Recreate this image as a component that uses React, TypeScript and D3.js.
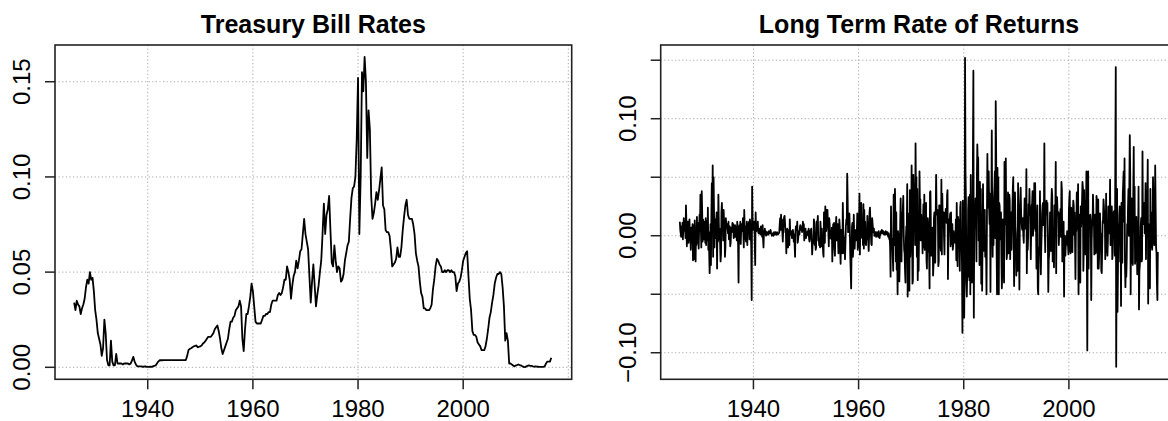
import React from "react";
import * as d3 from "d3";

// ---------- data ----------
const START_YEAR = 1926;

// 3-month Treasury bill rate, quarterly, in per mille (10 = 1%)
const tbillPermille: number[] = [
  34, 30, 35, 33, 32, 28, 31, 33, 36, 42, 46, 44, 50, 46, 47, 40,
  30, 25, 18, 15, 12, 6, 10, 25, 18, 4, 1, 1, 14, 3, 1, 1,
  7, 2, 2, 2, 2, 1.5, 2, 2, 2, 2, 1.5, 2, 3.5, 5.5, 3, 1.5,
  0.5, 0.5, 0.5, 0.5, 0.3, 0.3, 0.5, 0.3, 0.2, 0.2, 0.3, 0.2, 0.5, 0.8, 1, 2,
  3, 3.7, 3.7, 3.7, 3.8, 3.8, 3.8, 3.8, 3.8, 3.8, 3.8, 3.8, 3.8, 3.8, 3.8, 3.8,
  3.8, 3.8, 3.8, 3.8, 3.8, 3.8, 6, 9, 9.7, 10, 10.5, 11, 11.2, 11.5, 10.5, 10.8,
  11, 11.5, 12.5, 13, 14, 15, 16, 16, 16, 17, 18, 20, 21, 22, 19, 15,
  10, 7, 9, 11, 13, 15, 20, 24, 24, 26, 27, 30, 31, 32, 35, 32,
  15, 8.5, 20, 28, 28, 32, 37, 44, 40, 32, 24, 23, 23, 23, 23, 25,
  27, 27, 28, 28, 29, 29, 33, 35, 35, 35, 35, 38, 39, 38, 39, 42,
  46, 46, 53, 50, 46, 36, 43, 48, 50, 56, 52, 56, 61, 62, 70, 78,
  70, 66, 62, 48, 34, 45, 54, 43, 32, 38, 43, 50, 56, 70, 86, 70,
  80, 83, 90, 72, 55, 53, 64, 56, 50, 53, 52, 45, 46, 49, 56, 60,
  64, 66, 78, 89, 94, 95, 100, 120, 152, 70, 100, 155, 145, 163, 150, 110,
  135, 125, 90, 78, 81, 86, 92, 88, 93, 99, 105, 85, 83, 72, 71, 71,
  69, 62, 53, 54, 55, 57, 63, 58, 58, 63, 72, 79, 85, 88, 80, 78,
  78, 78, 75, 70, 60, 56, 53, 45, 39, 37, 31, 31, 30, 30, 30, 31,
  33, 41, 46, 53, 57, 56, 54, 53, 50, 50, 51, 50, 51, 51, 50, 51,
  50, 50, 48, 40, 44, 45, 47, 51, 56, 58, 60, 61, 48, 36, 30, 19,
  17, 17, 16, 13, 12, 11, 9, 9, 9, 11, 15, 20, 26, 29, 34, 38,
  44, 47, 49, 49, 50, 49, 42, 32, 14, 18, 14, 2, 2, 1.5, 1, 0.5,
  1, 1.2, 1.5, 1.2, 1, 0.5, 0.2, 0.1, 0.5, 0.8, 1, 0.8, 0.8, 0.5, 0.3, 0.5,
  0.4, 0.3, 0.2, 0.2, 0.2, 0.2, 0.5, 2, 3, 3, 3, 5,
];

// Long-term bond rate of return, monthly, in per mille (10 = 1%)
const returnsPermille: number[] = [
  12, 5, 2, -1, 8, 3, 11, -3, 7, 15, 9, 4,
  6, -2, 26, 10, -9, 4, 12, 3, -6, 8, 14, -4,
  2, -12, 7, -5, -2, 10, -21, 4, 9, -20, 13, 2,
  -22, 6, -8, 16, -6, 3, 11, -11, 5, 18, 9, 35,
  6, -10, 38, 20, -5, 14, 8, -3, 9, 12, -6, 15,
  -8, 4, 13, -4, 24, -12, 3, -15, -32, -18, 10, -25,
  18, 45, 10, 60, -18, 50, 22, -10, 8, 14, -2, 12,
  20, -28, 15, -5, 35, 10, -3, 6, -8, -22, -15, 20,
  28, 12, 18, -4, 22, 11, 6, -18, -10, 15, 9, 7,
  10, 6, 2, 12, -3, 5, 8, -9, -6, 4, 7, 3,
  11, 4, 10, -2, 5, 3, 9, -1, 6, 8, -4, 12,
  4, -8, -40, 6, 9, -3, 12, -7, 5, 8, 10, 4,
  15, 2, -10, 22, 5, 8, -2, -5, 3, 12, -8, 9,
  6, 10, 12, -3, 14, 8, 2, -10, -55, 42, 15, 10,
  5, 8, 12, -4, -25, 20, 6, 4, 10, 7, 12, 3,
  2, 4, 6, 3, 1, 8, 4, 2, -1, 9, -3, -10,
  3, 1, 6, 2, 4, 0, 3, 2, 1, 3, 1, 4,
  2, 3, 2, 5, 3, 2, 0, 2, 1, 2, 0, 3,
  1, 2, 3, 1, 2, 1, 3, 2, 1, 2, 2, 3,
  10, 15, 5, 18, 8, 14, 3, -5, 6, 12, 16, 17,
  12, 3, 5, -15, 2, 6, -4, -10, 1, 5, -8, 14,
  3, 1, 4, 2, -2, 3, 5, 2, -5, 1, -8, -18,
  4, 8, 6, 5, 12, -6, -3, 2, 4, 1, 7, 9,
  8, 5, 6, 3, 7, 12, 5, 10, -4, 3, 2, 6,
  -2, 3, 1, 2, 4, 0, 6, -3, -5, -2, 4, 5,
  6, -3, -16, -8, -4, -6, 14, 10, -8, 2, -12, -10,
  12, 3, 10, 17, -4, -2, -8, -5, -10, 12, 1, -9,
  6, -8, -4, -14, -18, 20, 4, -6, 25, 15, 4, 22,
  12, 22, 8, 4, -9, 15, 9, 1, -2, 4, -3, 7,
  -22, -6, 10, -1, 11, -11, -17, 4, 9, 16, -4, 5,
  10, -1, -15, -6, 14, 8, -12, -24, 5, -8, -6, -15,
  28, 4, -3, -15, -2, -20, -6, 8, 14, 10, 53, 32,
  3, 14, 10, 19, 4, -18, -30, -45, -12, 8, 11, -18,
  -10, 18, -1, -11, -2, 4, 5, -4, 3, 19, -12, -9,
  11, 13, 36, -16, 12, 20, 28, 1, -2, 10, -8, 27,
  -11, 22, -3, 12, -6, -8, 1, -3, 17, 6, -4, -13,
  -1, 20, 24, 11, 2, -7, -8, 15, 10, 5, 3, 6,
  0, 2, 1, 3, -1, 2, 3, 2, 0, -1, 4, 0,
  -2, 2, 1, 4, 3, 5, 2, 3, 4, 2, 1, 3,
  3, 1, 4, 3, 2, 1, 3, 0, -1, 2, -3, -2,
  -10, -35, 25, -6, -8, -3, -18, -30, 35, 26, -8, 40,
  15, -22, 20, -29, -5, -50, 4, -8, 2, -39, -20, 12,
  32, -4, -22, 20, 8, 23, 34, 1, -12, -15, -30, -40,
  -2, 8, 6, 44, -52, 19, 12, -6, -47, 39, -18, -6,
  -1, 60, 10, -41, -38, 52, 32, 20, 20, -8, 79, 30,
  50, -18, 40, -38, -4, -30, 0, 55, 26, 31, -4, 18,
  -4, 7, -15, 11, 27, -10, 35, -12, 10, 25, 28, -21,
  -28, 5, 15, 9, -12, -15, -45, 37, 38, 8, -17, -10,
  -8, 7, -34, -25, 15, 20, -10, -23, 18, 52, 21, 18,
  22, 18, -26, -22, 26, 26, -8, -9, -13, 48, -16, 36,
  15, 10, 20, -2, -16, 20, 13, 23, 18, 11, 35, 39,
  -37, -2, 14, 10, 12, 19, -9, 20, -2, -7, 10, -12,
  -8, 4, -4, -3, -6, -5, 14, -21, 28, -8, -26, 16,
  8, -10, 14, -30, 24, 29, -10, -3, -25, -83, 30, -11,
  -20, -70, -25, 152, 55, 30, -40, -52, -30, -35, 22, 33,
  -14, -38, 35, -50, 52, -5, -37, -40, -8, 72, 141, -70,
  6, 16, 20, 32, 15, -22, 50, 78, 62, 67, -4, 30,
  -25, 46, -16, 40, -41, -5, -47, 1, 44, -13, 17, -2,
  22, -18, -16, -11, -50, 20, 70, 24, 30, 55, 23, 10,
  36, -48, 32, 22, 90, 14, -18, 30, -8, 33, 40, 55,
  -2, 115, 70, -10, -50, 58, -12, 50, -50, 28, 25, -3,
  18, 20, -20, -45, -30, 14, -18, -25, -40, 63, 10, 17,
  66, 10, -20, -15, -11, 37, -15, 6, 35, 30, -20, 12,
  20, -12, 14, 22, 40, 50, -6, -43, 4, 37, 8, 1,
  -34, -3, -8, -30, 45, 23, 10, -46, 8, 25, 41, 18,
  13, 6, 5, 15, 0, -6, 15, 32, 30, 6, 10, 57,
  -32, 5, -12, 0, 27, 19, 40, 19, 17, -20, 5, 26,
  27, 38, 0, 8, 6, 45, 20, 45, 4, 11, -28, 4,
  26, -45, -50, -18, -10, -15, 38, -10, -33, -10, 4, 20,
  26, 28, 9, 17, 79, 6, -14, 20, 18, 30, 25, 28,
  -1, -48, -21, -16, -5, 20, 0, -13, 28, 40, 33, -22,
  -13, 0, -27, 26, 9, 19, 63, -32, 30, 33, 21, 18,
  20, -8, 3, 4, 18, 23, -1, 46, 39, -22, 9, 0,
  12, -52, -1, 0, -17, -8, -8, -4, 4, -4, -8, -16,
  22, 32, 38, -13, -15, 24, 14, 23, -14, 18, 30, 26,
  1, 20, -4, -37, 4, 4, 37, 20, 6, 44, -50, -12,
  18, 10, -40, 25, 8, 18, 30, 46, 41, -30, -12, 39,
  -12, 30, -16, 11, 55, -16, -98, 5, 55, -28, 6, 13,
  17, 18, 13, -55, -5, 11, 9, 35, 18, 18, -16, 17,
  18, -15, -13, 34, 30, 19, -28, 31, -28, -18, 4, 19,
  -5, 2, -30, -32, -10, 12, 14, 31, 25, 11, 21, -20,
  -8, 36, -14, 7, -17, -5, 25, 16, 2, 11, 48, -8,
  17, -5, 25, -20, -15, 20, 0, 21, 13, -17, 64, 144,
  -112, -14, 40, -65, -30, 10, -5, 18, 25, -22, 13, -60,
  28, 6, -23, 35, 45, 55, 12, 66, -24, -44, -27, -35,
  -20, 10, 2, 26, 40, 0, 44, 86, 52, -50, 16, 32,
  8, -22, -25, 38, 76, 9, 42, -24, -18, -5, 16, -6,
  -33, 12, -10, 42, -63, -30, -25, -12, 8, 15, -22, -20,
  72, 10, 10, 20, 28, 2, 8, 45, -20, 30, 30, 28,
  65, -58, 10, -40, -30, -45, 40, -10, 20, -5, -12, -4,
  50, 30, 0, -8, 8, 60, 25, -10, -15, -42, -55, -14,
];

const titles = ["Treasury Bill Rates", "Long Term Rate of Returns"];
const xTickYears = [1940, 1960, 1980, 2000];
const xGridYears = [1940, 1960, 1980, 2000, 2020];
const tbillYTicks = [0, 0.05, 0.1, 0.15];
const tbillYLabels = [0, 0.05, 0.1, 0.15];
const returnsYTicks = [-0.1, -0.05, 0, 0.05, 0.1, 0.15];
const returnsYLabels = [-0.1, 0, 0.1];

// ---------- layout ----------
const W = 1168;
const H = 421;
const TOP = 45;
const BOTTOM = 379.3;
const X_DOMAIN: [number, number] = [1922.36, 2020.64];
const FONT = "'Liberation Sans', Arial, Helvetica, sans-serif";
const fmt = d3.format(".2f");

type Pt = { t: number; v: number };

const tbillSeries: Pt[] = tbillPermille.map((p, i) => ({ t: START_YEAR + i / 4, v: p / 1000 }));
const returnsSeries: Pt[] = returnsPermille.map((p, i) => ({ t: START_YEAR + i / 12, v: p / 1000 }));

function Panel(props: {
  title: string;
  x0: number;
  x1: number;
  yDomain: [number, number];
  yTicks: number[];
  yLabels: number[];
  data: Pt[];
}) {
  const { title, x0, x1, yDomain, yTicks, yLabels, data } = props;
  const x = d3.scaleLinear().domain(X_DOMAIN).range([x0, x1]);
  const y = d3.scaleLinear().domain(yDomain).range([BOTTOM, TOP]);
  const line = d3
    .line<Pt>()
    .x((d) => x(d.t))
    .y((d) => y(d.v));
  const grid = "#a8a8a8";
  const dash = "1.2,2.4";
  return (
    <g>
      <text
        x={(x0 + x1) / 2}
        y={33}
        textAnchor="middle"
        fontFamily={FONT}
        fontWeight="bold"
        fontSize={25}
        fill="#000"
      >
        {title}
      </text>
      {/* grid */}
      {xGridYears.map((yr) => (
        <line
          key={"gx" + yr}
          x1={x(yr)}
          x2={x(yr)}
          y1={TOP}
          y2={BOTTOM}
          stroke={grid}
          strokeWidth={1}
          strokeDasharray={dash}
        />
      ))}
      {yTicks.map((v) => (
        <line
          key={"gy" + v}
          x1={x0}
          x2={x1}
          y1={y(v)}
          y2={y(v)}
          stroke={grid}
          strokeWidth={1}
          strokeDasharray={dash}
        />
      ))}
      {/* data */}
      <path d={line(data) || ""} fill="none" stroke="#000" strokeWidth={1.8} strokeLinejoin="round" />
      {/* box */}
      <rect x={x0} y={TOP} width={x1 - x0} height={BOTTOM - TOP} fill="none" stroke="#222" strokeWidth={1.6} />
      {/* x axis */}
      {xTickYears.map((yr) => (
        <g key={"xt" + yr}>
          <line x1={x(yr)} x2={x(yr)} y1={BOTTOM} y2={BOTTOM + 10} stroke="#222" strokeWidth={1.5} />
          <text x={x(yr)} y={416.7} textAnchor="middle" fontFamily={FONT} fontSize={24} fill="#000">
            {String(yr)}
          </text>
        </g>
      ))}
      {/* y axis */}
      {yTicks.map((v) => (
        <line key={"yt" + v} x1={x0 - 10} x2={x0} y1={y(v)} y2={y(v)} stroke="#222" strokeWidth={1.5} />
      ))}
      {yLabels.map((v) => (
        <text
          key={"yl" + v}
          transform={`translate(${x0 - 25},${y(v)}) rotate(-90)`}
          textAnchor="middle"
          fontFamily={FONT}
          fontSize={24}
          fill="#000"
        >
          {fmt(v)}
        </text>
      ))}
    </g>
  );
}

export default function App() {
  return (
    <svg
      width={W}
      height={H}
      viewBox={`0 0 ${W} ${H}`}
      style={{ position: "absolute", left: 0, top: 0, background: "#fff", overflow: "hidden" }}
    >
      <rect x={0} y={0} width={W} height={H} fill="#fff" />
      <Panel
        title={titles[0]}
        x0={55}
        x1={571.7}
        yDomain={[-0.0063, 0.1693]}
        yTicks={tbillYTicks}
        yLabels={tbillYLabels}
        data={tbillSeries}
      />
      <Panel
        title={titles[1]}
        x0={660.7}
        x1={1177.4}
        yDomain={[-0.1227, 0.163]}
        yTicks={returnsYTicks}
        yLabels={returnsYLabels}
        data={returnsSeries}
      />
    </svg>
  );
}
